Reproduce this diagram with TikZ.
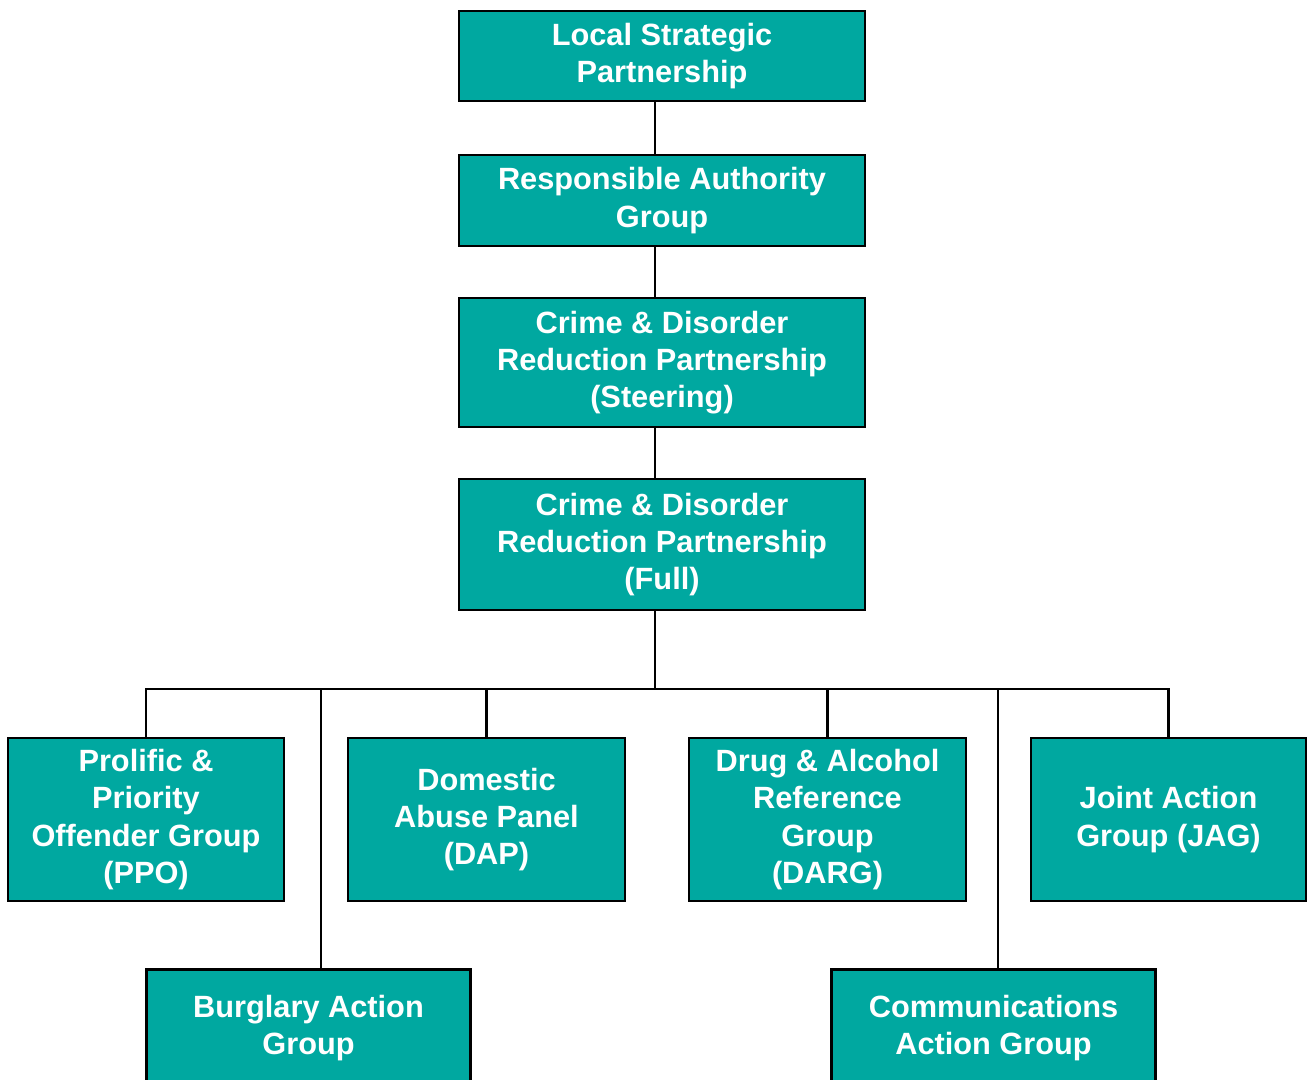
\documentclass[tikz,border=0pt]{standalone}
\usepackage{fontspec}
\setmainfont{Liberation Sans}
\usepackage{xcolor}

\definecolor{boxteal}{HTML}{00A8A0}

\tikzset{
  orgbox/.style={draw=black, line width=1.6pt, fill=boxteal, text=white,
    font=\bfseries\fontsize{17.5}{21.2}\selectfont, align=center, inner sep=0pt},
  link/.style={line width=1.6pt}
}

\begin{document}
\begin{tikzpicture}[x=0.02cm,y=-0.02cm]

\useasboundingbox (0,0) rectangle (1308,1079);
\clip (0,0) rectangle (1308,1079);

% top chain
\node[orgbox, minimum width=8.12cm, minimum height=1.8cm] (lsp) at (662,56) {Local Strategic\\Partnership};
\node[orgbox, minimum width=8.12cm, minimum height=1.82cm] (rag) at (662,200.5) {Responsible Authority\\Group};
\node[orgbox, minimum width=8.12cm, minimum height=2.58cm] (steer) at (662,362.5) {Crime \& Disorder\\Reduction Partnership\\(Steering)};
\node[orgbox, minimum width=8.12cm, minimum height=2.62cm] (full) at (662,544.5) {Crime \& Disorder\\Reduction Partnership\\(Full)};

% groups
\node[orgbox, minimum width=5.52cm, minimum height=3.26cm] (ppo) at (146,819.5) {Prolific \&\\Priority\\Offender Group\\(PPO)};
\node[orgbox, minimum width=5.54cm, minimum height=3.26cm] (dap) at (486.5,819.5) {Domestic\\Abuse Panel\\(DAP)};
\node[orgbox, minimum width=5.54cm, minimum height=3.26cm] (darg) at (827.5,819.5) {Drug \& Alcohol\\Reference\\Group\\(DARG)};
\node[orgbox, minimum width=5.5cm, minimum height=3.26cm] (jag) at (1168.5,819.5) {Joint Action\\Group (JAG)};
\node[orgbox, minimum width=6.48cm, minimum height=2.34cm] (burg) at (308.5,1028) {Burglary Action\\Group};
\node[orgbox, minimum width=6.48cm, minimum height=2.34cm] (comms) at (993.5,1028) {Communications\\Action Group};

\coordinate (hub) at (655,689);
\coordinate (burgdrop) at (321,689);
\coordinate (commsdrop) at (998,689);

\draw[link] (hub |- lsp.south) -- (hub |- rag.north);
\draw[link] (hub |- rag.south) -- (hub |- steer.north);
\draw[link] (hub |- steer.south) -- (hub |- full.north);
\draw[link] (hub |- full.south) -- (hub);

% bus
\draw[link] (ppo.north) |- (hub) -| (jag.north);
\draw[link] (dap.north) -- (dap.north |- hub);
\draw[link] (darg.north) -- (darg.north |- hub);
\draw[link] (burgdrop) -- (burgdrop |- burg.north);
\draw[link] (commsdrop) -- (commsdrop |- comms.north);

\end{tikzpicture}
\end{document}
